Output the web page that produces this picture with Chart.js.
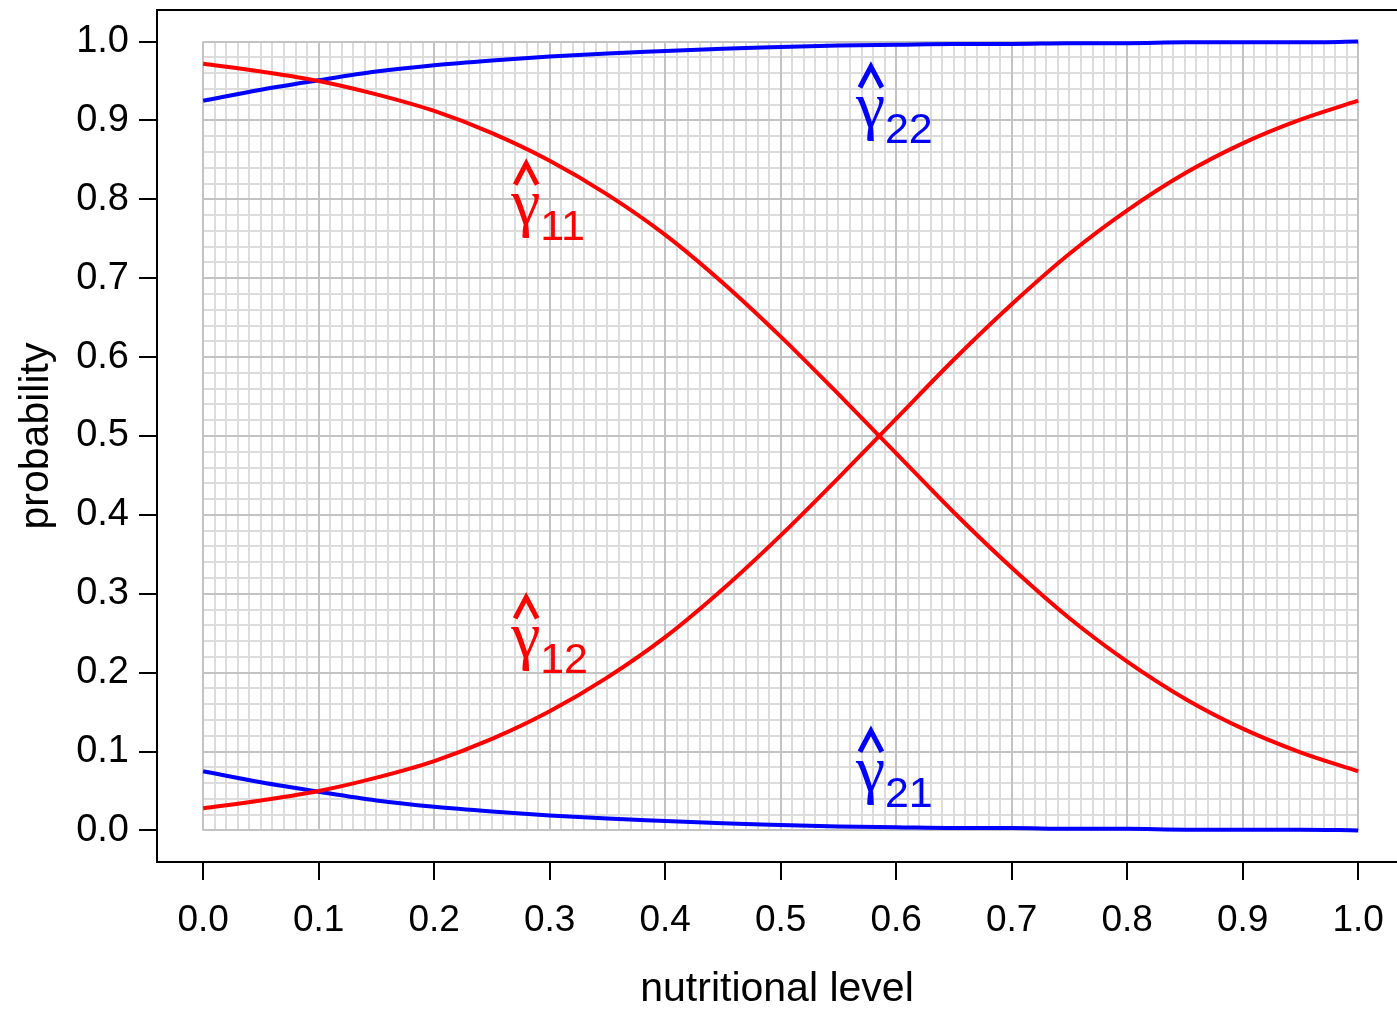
<!DOCTYPE html>
<html>
<head>
<meta charset="utf-8">
<script src="https://cdn.jsdelivr.net/npm/chart.js@4.4.1/dist/chart.umd.min.js"></script>
<style>
  html, body { margin: 0; padding: 0; background: #fff; }
  canvas { display: block; }
</style>
</head>
<body>
<canvas id="chart" width="1397" height="1010"></canvas>
<script>
// nutritional level (x) and fitted probabilities
const levels = [0.00, 0.05, 0.10, 0.15, 0.20, 0.25, 0.30, 0.35, 0.40, 0.45, 0.50,
                0.55, 0.60, 0.65, 0.70, 0.75, 0.80, 0.85, 0.90, 0.95, 1.00];
const gamma11 = [0.972, 0.962, 0.950, 0.933, 0.912, 0.884, 0.849, 0.806, 0.755, 0.694, 0.626,
                 0.553, 0.478, 0.403, 0.333, 0.269, 0.214, 0.167, 0.129, 0.099, 0.075];
const gamma12 = [0.028, 0.038, 0.050, 0.067, 0.088, 0.116, 0.151, 0.194, 0.245, 0.306, 0.374,
                 0.447, 0.522, 0.597, 0.667, 0.731, 0.786, 0.833, 0.871, 0.901, 0.925];
const gamma21 = [0.075, 0.061, 0.049, 0.038, 0.030, 0.024, 0.019, 0.015, 0.012, 0.009, 0.007,
                 0.005, 0.004, 0.003, 0.003, 0.002, 0.002, 0.001, 0.001, 0.001, 0.000];
const gamma22 = [0.925, 0.939, 0.951, 0.962, 0.970, 0.976, 0.981, 0.985, 0.988, 0.991, 0.993,
                 0.995, 0.996, 0.997, 0.997, 0.998, 0.998, 0.999, 0.999, 0.999, 1.000];

const xTicks = [0, 0.1, 0.2, 0.3, 0.4, 0.5, 0.6, 0.7, 0.8, 0.9, 1.0];
const xTickLabels = ['0.0', '0.1', '0.2', '0.3', '0.4', '0.5', '0.6', '0.7', '0.8', '0.9', '1.0'];
const yTicks = [0, 0.1, 0.2, 0.3, 0.4, 0.5, 0.6, 0.7, 0.8, 0.9, 1.0];
const yTickLabels = ['0.0', '0.1', '0.2', '0.3', '0.4', '0.5', '0.6', '0.7', '0.8', '0.9', '1.0'];

// curve labels: subscript, anchor in data units, colour
const curveLabels = [
    { sub: '11', x: 0.2675, y: 0.749, color: '#ff0000' },
    { sub: '12', x: 0.2675, y: 0.199, color: '#ff0000' },
    { sub: '22', x: 0.566, y: 0.872, color: '#0000ff' },
    { sub: '21', x: 0.566, y: 0.030, color: '#0000ff' }
];

const FONT = "'Liberation Sans', Arial, Helvetica, sans-serif";
const GREEK = "'Liberation Serif', 'DejaVu Serif', serif";
const RED = '#ff0000';
const BLUE = '#0000ff';

function toPoints(ys) {
    return levels.map((x, i) => ({ x: x, y: ys[i] }));
}

function lineSet(ys, color) {
    return {
        data: toPoints(ys),
        borderColor: color,
        borderWidth: 4,
        pointRadius: 0,
        fill: false,
        cubicInterpolationMode: 'monotone'
    };
}

// R-style graph paper: minor lines every 0.01 (x) / 0.02 (y), major every 0.1
const gridPlugin = {
    id: 'graphPaper',
    beforeDatasetsDraw(chart) {
        const { ctx, scales: { x, y } } = chart;
        const x0 = x.getPixelForValue(0), x1 = x.getPixelForValue(1);
        const y0 = y.getPixelForValue(0), y1 = y.getPixelForValue(1);
        ctx.save();
        ctx.lineWidth = 2;
        ctx.strokeStyle = '#dcdcdc';
        ctx.beginPath();
        for (let i = 0; i <= 100; i++) {
            if (i % 10 === 0) continue;
            const px = Math.round(x.getPixelForValue(i / 100));
            ctx.moveTo(px, y0);
            ctx.lineTo(px, y1);
        }
        for (let j = 0; j <= 50; j++) {
            if (j % 5 === 0) continue;
            const py = Math.round(y.getPixelForValue(j / 50));
            ctx.moveTo(x0, py);
            ctx.lineTo(x1, py);
        }
        ctx.stroke();

        ctx.strokeStyle = '#c3c3c3';
        ctx.beginPath();
        for (let i = 0; i <= 10; i++) {
            const px = Math.round(x.getPixelForValue(i / 10));
            ctx.moveTo(px, y0);
            ctx.lineTo(px, y1);
            const py = Math.round(y.getPixelForValue(i / 10));
            ctx.moveTo(x0, py);
            ctx.lineTo(x1, py);
        }
        ctx.stroke();
        ctx.restore();
    }
};

// plot box (right side falls off the canvas like in the original)
const boxPlugin = {
    id: 'plotBox',
    afterDraw(chart) {
        const { ctx, chartArea: a } = chart;
        ctx.save();
        ctx.strokeStyle = '#000';
        ctx.lineWidth = 2;
        ctx.beginPath();
        ctx.moveTo(a.right + 10, a.top);
        ctx.lineTo(a.left, a.top);
        ctx.lineTo(a.left, a.bottom);
        ctx.lineTo(a.right + 10, a.bottom);
        ctx.stroke();
        ctx.restore();
    }
};

// hat(gamma)[ij] labels
const labelPlugin = {
    id: 'gammaLabels',
    afterDatasetsDraw(chart) {
        const { ctx, scales: { x, y } } = chart;
        ctx.save();
        curveLabels.forEach(l => {
            const px = x.getPixelForValue(l.x);
            const py = y.getPixelForValue(l.y);
            ctx.fillStyle = l.color;
            ctx.strokeStyle = l.color;
            ctx.textAlign = 'left';
            ctx.textBaseline = 'alphabetic';
            ctx.font = '66px ' + GREEK;
            ctx.fillText('γ', px - 1, py - 16);
            ctx.font = '43px ' + FONT;
            ctx.fillText(l.sub, px + 28, py);
            // hat
            const cx = px + 14;
            ctx.lineWidth = 5;
            ctx.lineJoin = 'miter';
            ctx.beginPath();
            ctx.moveTo(cx - 11, py - 55);
            ctx.lineTo(cx, py - 76);
            ctx.lineTo(cx + 11, py - 55);
            ctx.stroke();
        });
        ctx.restore();
    }
};

const ctx = document.getElementById('chart').getContext('2d');
new Chart(ctx, {
    type: 'line',
    data: {
        datasets: [
            lineSet(gamma11, RED),
            lineSet(gamma12, RED),
            lineSet(gamma22, BLUE),
            lineSet(gamma21, BLUE)
        ]
    },
    options: {
        responsive: false,
        animation: false,
        layout: { padding: { top: 10, right: 0, bottom: 0, left: 0 } },
        plugins: {
            legend: { display: false },
            tooltip: { enabled: false }
        },
        scales: {
            x: {
                type: 'linear',
                min: -0.04,
                max: 1.0336,
                afterBuildTicks: s => { s.ticks = xTicks.map(v => ({ value: v })); },
                afterFit: s => { s.height = 148; s.paddingLeft = 0; s.paddingRight = 0; },
                border: { display: false },
                grid: { drawOnChartArea: false, drawTicks: true, tickLength: 18, color: '#000', lineWidth: 2 },
                ticks: {
                    autoSkip: false,
                    maxRotation: 0,
                    padding: 19,
                    color: '#000',
                    font: { family: FONT, size: 37 },
                    callback: (v, i) => xTickLabels[i]
                },
                title: {
                    display: true,
                    text: 'nutritional level',
                    color: '#000',
                    font: { family: FONT, size: 41, lineHeight: 1 },
                    padding: { top: 0, bottom: 0 }
                }
            },
            y: {
                type: 'linear',
                min: -0.04,
                max: 1.04,
                afterBuildTicks: s => { s.ticks = yTicks.map(v => ({ value: v })); },
                afterFit: s => { s.width = 157; s.paddingTop = 0; s.paddingBottom = 0; },
                border: { display: false },
                grid: { drawOnChartArea: false, drawTicks: true, tickLength: 18, color: '#000', lineWidth: 2 },
                ticks: {
                    autoSkip: false,
                    padding: 10,
                    color: '#000',
                    font: { family: FONT, size: 38 },
                    callback: (v, i) => yTickLabels[i]
                },
                title: {
                    display: true,
                    text: 'probability',
                    color: '#000',
                    font: { family: FONT, size: 41, lineHeight: 1.2 },
                    padding: { top: 12, bottom: 0 }
                }
            }
        }
    },
    plugins: [gridPlugin, boxPlugin, labelPlugin]
});
</script>
</body>
</html>
